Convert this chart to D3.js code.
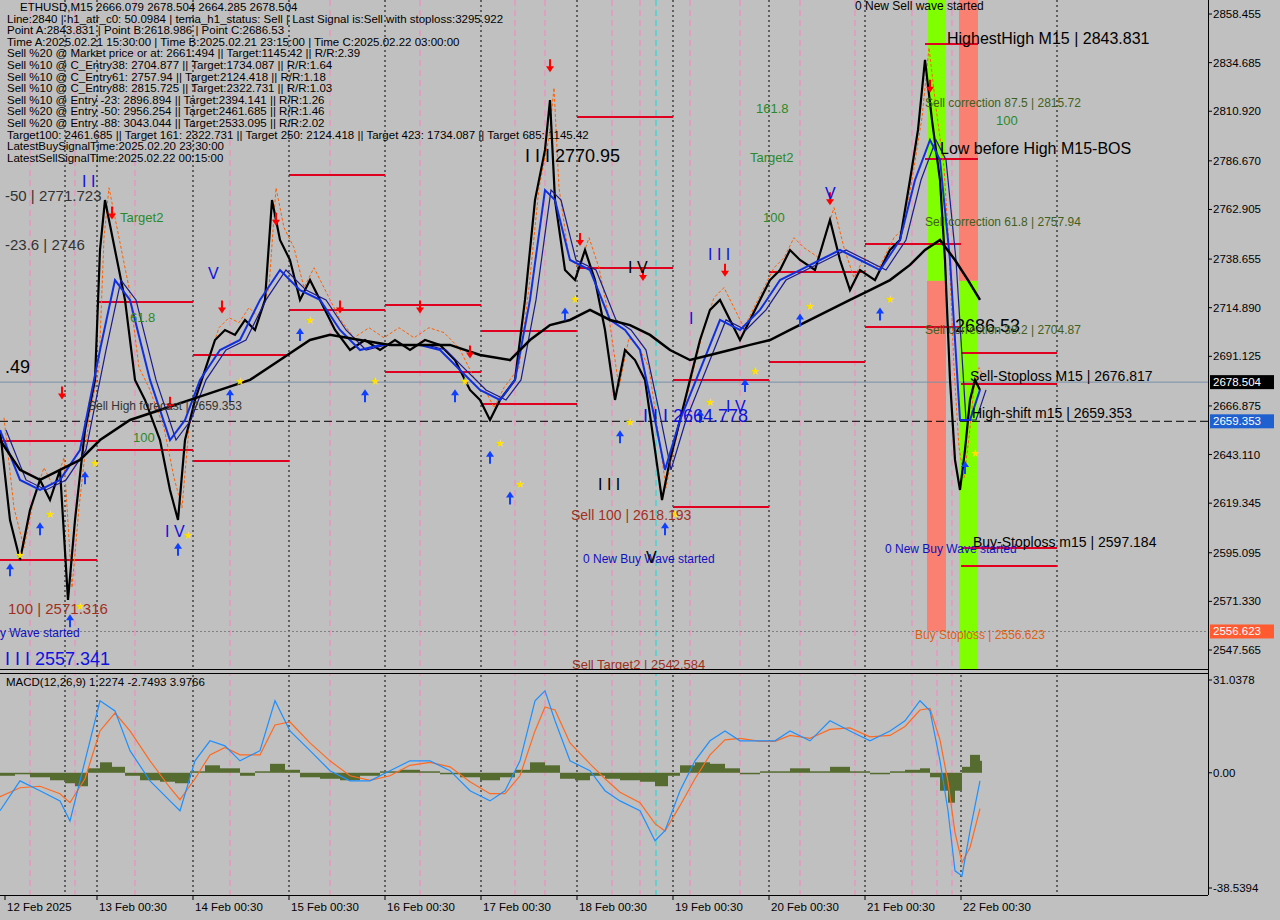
<!DOCTYPE html>
<html><head><meta charset="utf-8">
<script src="https://cdn.jsdelivr.net/npm/d3@7.9.0/dist/d3.min.js"></script>
<style>body{margin:0;background:#c0c0c0}svg{display:block;font-family:"Liberation Sans",Arial,sans-serif}</style>
</head><body><svg id="c" width="1280" height="920"></svg>
<script>
// price path: [bar index, price]
const pricePath = [[0,2655.1],[10,2611.1],[20,2591.6],[30,2616.0],[40,2630.7],[50,2620.9],[60,2635.6],[68,2572.0],[75,2611.1],[85,2655.1],[95,2679.6],[100,2743.1],[105,2767.5],[115,2743.1],[125,2718.7],[135,2679.6],[145,2669.8],[160,2650.2],[170,2625.8],[178,2611.1],[185,2650.2],[195,2669.8],[205,2684.4],[215,2699.1],[225,2704.0],[235,2701.6],[245,2708.9],[255,2704.0],[265,2718.7],[272,2767.5],[280,2748.0],[290,2738.2],[300,2718.7],[310,2728.4],[320,2718.7],[335,2704.0],[350,2694.2],[365,2699.1],[380,2694.2],[395,2699.1],[410,2694.2],[425,2699.1],[440,2696.7],[455,2689.3],[470,2674.7],[480,2669.8],[490,2660.0],[500,2669.8],[515,2679.6],[525,2718.7],[535,2767.5],[545,2792.0],[550,2816.4],[555,2767.5],[565,2733.3],[575,2728.4],[585,2743.1],[595,2728.4],[605,2704.0],[615,2669.8],[625,2694.2],[635,2689.3],[645,2679.6],[655,2645.3],[662,2620.9],[670,2640.5],[680,2660.0],[690,2679.6],[700,2699.1],[710,2713.8],[720,2718.7],[730,2708.9],[740,2699.1],[750,2708.9],[760,2718.7],[770,2728.4],[780,2733.3],[790,2743.1],[800,2738.2],[815,2733.3],[830,2757.8],[840,2738.2],[850,2723.5],[860,2733.3],[875,2728.4],[890,2743.1],[900,2748.0],[910,2777.3],[918,2801.8],[925,2836.0],[932,2806.6],[940,2777.3],[945,2738.2],[950,2679.6],[955,2640.5],[960,2625.8],[965,2645.3],[970,2669.8],[975,2679.6],[980,2674.7]];
const slowMA = [[0,2650.2],[20,2635.6],[40,2630.7],[60,2635.6],[80,2640.5],[100,2650.2],[130,2660.0],[160,2664.9],[190,2669.8],[220,2674.7],[250,2679.6],[280,2689.3],[310,2699.1],[330,2701.6],[360,2699.1],[390,2696.7],[420,2696.7],[450,2696.7],[480,2691.8],[510,2689.3],[530,2699.1],[550,2706.4],[570,2708.9],[590,2713.8],[610,2708.9],[630,2706.4],[650,2701.6],[670,2694.2],[690,2689.3],[710,2691.8],[730,2694.2],[750,2696.7],[770,2699.1],[790,2704.0],[810,2708.9],[830,2713.8],[850,2718.7],[870,2723.5],[890,2728.4],[910,2735.8],[925,2743.1],[940,2748.0],[955,2738.2],[968,2728.4],[980,2718.7]];
const fastMA = [[0,2655.1],[20,2630.7],[40,2625.8],[60,2630.7],[80,2645.3],[100,2694.2],[115,2728.4],[130,2718.7],[150,2679.6],[170,2650.2],[185,2660.0],[200,2679.6],[220,2694.2],[240,2699.1],[260,2718.7],[280,2733.3],[300,2723.5],[320,2718.7],[340,2704.0],[360,2694.2],[380,2696.7],[400,2696.7],[420,2696.7],[440,2694.2],[460,2684.4],[480,2674.7],[500,2669.8],[515,2679.6],[530,2718.7],[545,2772.4],[555,2767.5],[570,2738.2],[590,2733.3],[610,2708.9],[625,2704.0],[640,2694.2],[655,2660.0],[665,2635.6],[680,2660.0],[700,2684.4],[720,2708.9],[740,2704.0],[760,2713.8],[780,2728.4],[800,2733.3],[820,2738.2],[840,2743.1],[860,2738.2],[880,2733.3],[900,2748.0],[915,2777.3],[930,2796.9],[940,2787.1],[950,2738.2],[960,2660.0],[970,2660.0],[980,2674.7]];
const macdMain = [[0,-12.7],[20,-2.7],[40,-6.0],[60,-9.4],[70,-16.1],[85,4.0],[100,24.1],[115,20.7],[130,7.4],[150,-2.7],[170,-9.4],[180,-12.7],[195,4.0],[210,10.7],[225,9.0],[240,4.0],[260,7.4],[275,24.1],[290,14.0],[310,7.4],[330,0.7],[350,-2.7],[370,-2.7],[390,0.7],[410,4.0],[430,4.0],[450,0.7],[470,-6.0],[490,-9.4],[505,-6.0],[520,4.0],[535,24.1],[545,27.4],[555,17.4],[570,4.0],[590,0.7],[605,-6.0],[620,-9.4],[640,-12.7],[655,-22.7],[665,-19.4],[680,-6.0],[695,4.0],[710,10.7],[725,14.0],[740,10.7],[760,10.7],[775,10.7],[790,14.0],[810,10.7],[830,17.4],[850,14.0],[870,10.7],[890,14.0],[905,17.4],[920,24.1],[930,20.7],[940,4.0],[948,-12.7],[955,-32.8],[962,-34.5],[970,-19.4],[980,-2.7]];
const macdSignal = [[0,-8.0],[20,-5.0],[40,-4.5],[60,-7.0],[70,-10.0],[85,-2.0],[100,14.0],[115,20.0],[130,14.0],[150,4.0],[170,-5.0],[180,-9.0],[195,-2.0],[210,6.0],[225,8.5],[240,6.0],[260,6.0],[275,16.0],[290,17.0],[310,10.0],[330,4.0],[350,-1.0],[370,-2.5],[390,-1.0],[410,2.5],[430,3.5],[450,2.0],[470,-3.0],[490,-7.0],[505,-7.0],[520,-1.0],[535,14.0],[545,22.0],[555,21.0],[570,10.0],[590,3.0],[605,-2.0],[620,-6.5],[640,-10.0],[655,-17.0],[665,-19.5],[680,-11.0],[695,-2.0],[710,6.0],[725,11.0],[740,11.5],[760,10.5],[775,10.5],[790,12.5],[810,11.5],[830,14.5],[850,15.0],[870,12.0],[890,12.5],[905,15.5],[920,21.0],[930,21.5],[940,11.0],[948,-3.0],[955,-20.0],[962,-30.0],[970,-25.0],[980,-12.0]];
// olive histogram read separately: [bar, value]
const macdHist = [[0,-1.0],[15,-0.5],[30,-1.5],[50,-2.5],[65,-3.5],[75,-4.5],[88,1.5],[100,3.5],[112,2.0],[125,-1.0],[140,-2.5],[160,-3.0],[175,-3.5],[190,0.5],[205,2.5],[220,1.5],[240,-1.0],[255,0.5],[270,3.0],[285,1.0],[300,-1.5],[320,-2.0],[340,-2.5],[360,-1.0],[380,0.5],[400,1.0],[420,0.5],[440,-0.5],[460,-1.5],[480,-2.5],[500,-1.5],[515,1.0],[530,3.5],[545,2.5],[560,-2.0],[575,-2.5],[590,-1.0],[605,-2.0],[620,-2.5],[640,-3.0],[655,-4.5],[668,-1.0],[680,2.5],[695,3.5],[710,3.0],[725,1.5],[740,-0.5],[760,0.5],[775,0.5],[790,1.5],[810,0.5],[830,2.0],[850,0.5],[870,-0.5],[890,0.5],[905,1.0],[920,1.5],[930,-1.5],[940,-6.0],[948,-10.0],[955,-6.0],[962,2.0],[970,6.0],[980,4.0]];
const priceTicks = [2858.455,2834.685,2810.920,2786.670,2762.905,2738.655,2714.890,2691.125,2666.875,2643.110,2619.345,2595.095,2571.330,2547.565];
const dayLabels = [[5,"12 Feb 2025"],[97,"13 Feb 00:30"],[193,"14 Feb 00:30"],[289,"15 Feb 00:30"],[385,"16 Feb 00:30"],[481,"17 Feb 00:30"],[577,"18 Feb 00:30"],[673,"19 Feb 00:30"],[769,"20 Feb 00:30"],[865,"21 Feb 00:30"],[961,"22 Feb 00:30"]];
const blackVLines = [65,97,193,289,385,481,577,673,769,865,961,1057];
const pinkVLines = [30,75,135,230,330,420,515,545,612,640,690,740,800,855,912,937,952];
const cyanVLines = [656];
// red level segments: [from bar, to bar, price]
const levels = [[0,97,2591.6],[0,97,2649.7],[97,193,2717.7],[97,193,2645.3],[193,289,2691.8],[193,289,2640.0],[289,385,2779.8],[289,385,2713.8],[385,481,2716.2],[385,481,2683.5],[481,577,2703.5],[481,577,2667.8],[577,673,2808.1],[577,673,2734.3],[673,769,2679.6],[673,769,2617.5],[769,865,2688.4],[769,865,2732.3],[865,961,2746.0],[865,961,2705.5],[961,1057,2692.8],[961,1057,2677.6],[961,1057,2597.4],[961,1057,2588.6],[925,978,2843.8],[925,978,2787.6]];
const sellArrows = [[62,2670],[112,2758],[170,2665],[222,2712],[276,2755],[340,2712],[420,2712],[470,2690],[550,2830],[580,2745],[643,2728],[725,2730],[830,2765],[930,2820]];
const buyArrows = [[10,2590],[40,2610],[70,2565],[85,2635],[178,2600],[230,2675],[300,2705],[365,2675],[455,2675],[490,2645],[510,2625],[565,2715],[620,2655],[665,2610],[700,2665],[745,2680],[800,2712],[880,2715],[965,2640]];
const infoLines = ["ETHUSD,M15  2666.079 2678.504 2664.285 2678.504","Line:2840 | h1_atr_c0: 50.0984 | tema_h1_status: Sell | Last Signal is:Sell with stoploss:3295.922","Point A:2843.831 | Point B:2618.986 | Point C:2686.53","Time A:2025.02.21 15:30:00 | Time B:2025.02.21 23:15:00 | Time C:2025.02.22 03:00:00","Sell %20 @ Market price or at: 2661.494 || Target:1145.42 || R/R:2.39","Sell %10 @ C_Entry38: 2704.877 || Target:1734.087 || R/R:1.64","Sell %10 @ C_Entry61: 2757.94 || Target:2124.418 || R/R:1.18","Sell %10 @ C_Entry88: 2815.725 || Target:2322.731 || R/R:1.03","Sell %10 @ Entry -23: 2896.894 || Target:2394.141 || R/R:1.26","Sell %20 @ Entry -50: 2956.254 || Target:2461.685 || R/R:1.46","Sell %20 @ Entry -88: 3043.044 || Target:2533.095 || R/R:2.02","Target100: 2461.685 || Target 161: 2322.731 || Target 250: 2124.418 || Target 423: 1734.087 || Target 685: 1145.42","LatestBuySignalTime:2025.02.20 23:30:00","LatestSellSignalTime:2025.02.22 00:15:00"];
// [bar, price, text, color, size]
const labels = [[947,2843.8,"HighestHigh    M15 | 2843.831","#000",16],[940,2790,"Low before High    M15-BOS","#000",16],[970,2679,"Sell-Stoploss M15 | 2676.817","#000",14],[972,2661,"High-shift m15 | 2659.353","#000",14],[973,2598,"Buy-Stoploss m15 | 2597.184","#000",14],[915,2553,"Buy Stoploss | 2556.623","#e06010",12],[885,2595,"0 New Buy Wave started","#1010c0",12],[583,2590,"0 New Buy Wave started","#1010c0",12],[0,2554,"y Wave started","#1010c0",12],[571,2611,"Sell 100 | 2618.193","#a03020",14],[643,2659,"I I I 2664.778","#1010e0",18],[525,2786,"I I I 2770.95","#000",18],[955,2703,"2686.53","#000",18],[5,2767,"-50 | 2771.723","#333",15],[5,2743,"-23.6 | 2746","#333",15],[8,2565,"100 | 2571.316","#a03020",15],[5,2540,"I I I 2557.341","#1010e0",18],[572,2538.5,"Sell Target2 | 2542.584","#a03020",13],[925,2813,"Sell correction 87.5 | 2815.72","#406020",12],[925,2755,"Sell correction 61.8 | 2757.94","#406020",12],[925,2702,"Sell correction 38.2 | 2704.87","#406020",12],[996,2804,"100","#2a8a2a",13],[756,2810,"161.8","#2a8a2a",13],[750,2786,"Target2","#2a8a2a",13],[763,2757,"100","#2a8a2a",13],[120,2757,"Target2","#2a8a2a",13],[130,2708,"61.8","#2a8a2a",13],[133,2649,"100","#2a8a2a",13],[88,2665,"Sell High forecast | 2659.353","#333",12],[855,2860.5,"0 New Sell wave started","#000",12],[5,2683,".49","#000",18],[82,2774,"I I","#1010e0",16],[208,2729,"V","#1010e0",16],[165,2603,"I V","#1010e0",16],[598,2626,"I I I","#000",16],[646,2590,"V","#000",16],[628,2732,"I V","#000",16],[708,2738,"I I I","#1010e0",16],[689,2707,"I","#1010e0",16],[726,2664,"I V","#1010e0",16],[825,2768,"V","#1010e0",16]];

const svg = d3.select("#c");
const W = 1208, plotR = 1208;
const x = d3.scaleLinear().domain([0, 1208]).range([0, plotR]);
const y = d3.scaleLinear().domain([2547.565, 2858.455]).range([650, 14]);
const ym = d3.scaleLinear().domain([-38.5394, 31.0378]).range([888, 680]);

svg.append("rect").attr("width", 1280).attr("height", 920).attr("fill", "#c0c0c0");

// vertical lines
const vg = svg.append("g");
blackVLines.forEach(b => vg.append("line").attr("x1", x(b)).attr("x2", x(b)).attr("y1", 0).attr("y2", 895).attr("stroke", "#000").attr("stroke-dasharray", "2,3"));
pinkVLines.forEach(b => vg.append("line").attr("x1", x(b)).attr("x2", x(b)).attr("y1", 0).attr("y2", 895).attr("stroke", "#ff80c0").attr("stroke-dasharray", "6,4"));
cyanVLines.forEach(b => vg.append("line").attr("x1", x(b)).attr("x2", x(b)).attr("y1", 0).attr("y2", 895).attr("stroke", "#00e0e0").attr("stroke-dasharray", "6,4"));

// color bands
const bands = [[928,946,2858.455+8,2728,"#80ff00"],[927,946,2728,2556.6,"#fa8072"],[959,978,2858.455+8,2728,"#fa8072"],[959,978,2728,2547.565-10,"#80ff00"]];
bands.forEach(([a,b,p1,p2,c]) => svg.append("rect").attr("x", x(a)).attr("width", x(b)-x(a)).attr("y", y(p1)).attr("height", y(p2)-y(p1)).attr("fill", c));

// horizontal reference lines
svg.append("line").attr("x1",0).attr("x2",plotR).attr("y1",y(2678.504)).attr("y2",y(2678.504)).attr("stroke","#7890a8");
svg.append("line").attr("x1",0).attr("x2",plotR).attr("y1",y(2659.353)).attr("y2",y(2659.353)).attr("stroke","#000").attr("stroke-dasharray","8,4");
svg.append("line").attr("x1",0).attr("x2",plotR).attr("y1",y(2556.623)).attr("y2",y(2556.623)).attr("stroke","#808080").attr("stroke-dasharray","2,2");

levels.forEach(([a,b,p]) => svg.append("line").attr("x1",x(a)).attr("x2",x(b)).attr("y1",y(p)).attr("y2",y(p)).attr("stroke","#e00020").attr("stroke-width",2));

const line = d3.line().x(d => x(d[0])).y(d => y(d[1]));
// orange dashed price envelope
svg.append("path").attr("d", line(pricePath.map(d => [d[0]+4, d[1]+6]))).attr("fill","none").attr("stroke","#ff6000").attr("stroke-width",1).attr("stroke-dasharray","3,2");
svg.append("path").attr("d", line(pricePath)).attr("fill","none").attr("stroke","#000").attr("stroke-width",2.2);
svg.append("path").attr("d", line(fastMA.map(d => [d[0]+6, d[1]]))).attr("fill","none").attr("stroke","#1a1a90").attr("stroke-width",1.2);
svg.append("path").attr("d", line(fastMA)).attr("fill","none").attr("stroke","#1030e0").attr("stroke-width",2);
svg.append("path").attr("d", line(slowMA)).attr("fill","none").attr("stroke","#000").attr("stroke-width",2.5);

// arrows & stars
sellArrows.forEach(([b,p]) => {
  svg.append("path").attr("d", `M${x(b)},${y(p)} l-4,-6 h3 v-7 h2 v7 h3 z`).attr("fill","#ff0000");
});
buyArrows.forEach(([b,p]) => {
  svg.append("path").attr("d", `M${x(b)},${y(p)} l-4,6 h3 v7 h2 v-7 h3 z`).attr("fill","#1040ff");
  svg.append("text").attr("x",x(b)+5).attr("y",y(p)-4).attr("font-size",11).attr("fill","#ffe000").text("★");
});

// labels
labels.forEach(([b,p,t,c,s]) => svg.append("text").attr("x",x(b)).attr("y",y(p)).attr("font-size",s).attr("fill",c).text(t));
infoLines.forEach((t,i) => svg.append("text").attr("x", i===0?20:7).attr("y", 11 + i*11.6).attr("font-size", 11.5).attr("fill", "#000").text(t));

// panel separators
svg.append("rect").attr("x",0).attr("y",669).attr("width",W).attr("height",4).attr("fill","#c0c0c0");
svg.append("line").attr("x1",0).attr("x2",W).attr("y1",669.5).attr("y2",669.5).attr("stroke","#000");
svg.append("line").attr("x1",0).attr("x2",W).attr("y1",673.5).attr("y2",673.5).attr("stroke","#000");
svg.append("line").attr("x1",0).attr("x2",W).attr("y1",895.5).attr("y2",895.5).attr("stroke","#000");
svg.append("line").attr("x1",W+0.5).attr("x2",W+0.5).attr("y1",0).attr("y2",895).attr("stroke","#000");

// MACD
macdHist.forEach(([b,v], i) => {
  const nb = i < macdHist.length-1 ? macdHist[i+1][0] : b+2;
  svg.append("rect").attr("x", x(b)).attr("width", Math.max(1, x(nb)-x(b))).attr("y", Math.min(ym(v), ym(0))).attr("height", Math.abs(ym(v)-ym(0))).attr("fill","#556b2f");
});
const mline = d3.line().x(d => x(d[0])).y(d => ym(d[1]));
svg.append("path").attr("d", mline(macdSignal)).attr("fill","none").attr("stroke","#ff6a20").attr("stroke-width",1.2);
svg.append("path").attr("d", mline(macdMain)).attr("fill","none").attr("stroke","#1e90ff").attr("stroke-width",1.2);
svg.append("text").attr("x",6).attr("y",686).attr("font-size",11.5).text("MACD(12,26,9) 1.2274 -2.7493 3.9766");

// right axis
priceTicks.forEach(p => {
  svg.append("line").attr("x1",W).attr("x2",W+4).attr("y1",y(p)).attr("y2",y(p)).attr("stroke","#000");
  svg.append("text").attr("x",1213).attr("y",y(p)+4).attr("font-size",11.5).text(p.toFixed(3));
});
[[2678.504,"#000","#fff"],[2659.353,"#1e60d0","#fff"],[2556.623,"#ff5a30","#fff"]].forEach(([p,bg,fg]) => {
  svg.append("rect").attr("x",W+2).attr("y",y(p)-7).attr("width",64).attr("height",14).attr("fill",bg);
  svg.append("text").attr("x",1213).attr("y",y(p)+4).attr("font-size",11.5).attr("fill",fg).text(p.toFixed(3));
});
[[31.0378,"31.0378"],[0,"0.00"],[-38.5394,"-38.5394"]].forEach(([v,t]) => {
  svg.append("line").attr("x1",W).attr("x2",W+4).attr("y1",ym(v)).attr("y2",ym(v)).attr("stroke","#000");
  svg.append("text").attr("x",1213).attr("y",ym(v)+4).attr("font-size",11.5).text(t);
});

// time axis
dayLabels.forEach(([b,t]) => {
  svg.append("line").attr("x1",x(b)).attr("x2",x(b)).attr("y1",895).attr("y2",900).attr("stroke","#000");
  svg.append("text").attr("x",x(b)+2).attr("y",911).attr("font-size",11.5).text(t);
});
</script></body></html>
